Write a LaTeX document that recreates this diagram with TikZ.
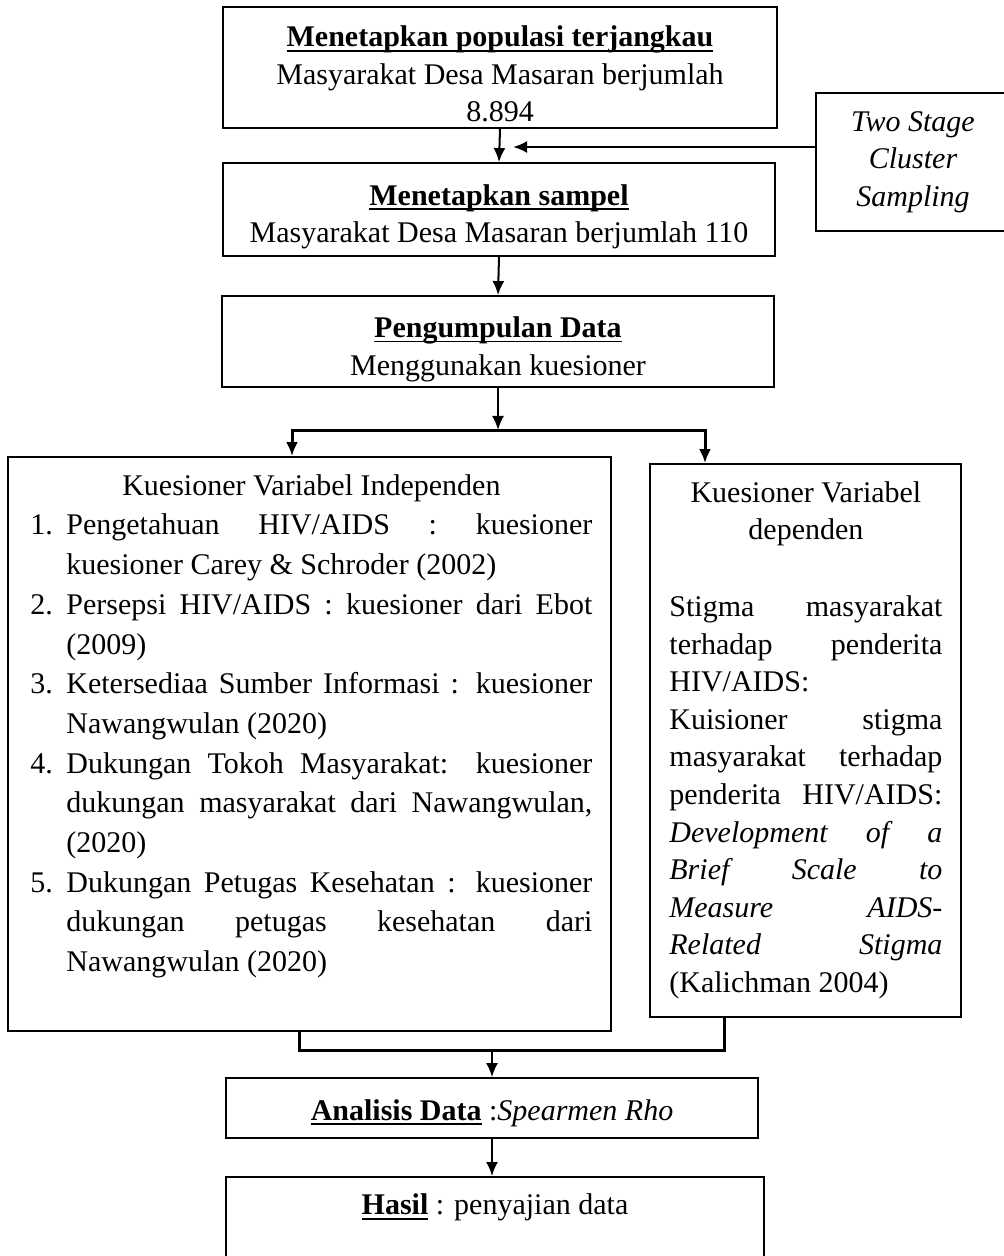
\documentclass[tikz,border=0pt]{standalone}
\usepackage{fontspec}
\setmainfont{Liberation Serif}
\usetikzlibrary{arrows.meta}

% nomor butir dengan indentasi gantung
\newcommand{\butir}[1]{\noindent\hangindent=18pt\hangafter=1\makebox[18pt][l]{#1}}
% penyangga atas supaya teks kotak sedikit turun
\newcommand{\jarak}[1]{\rule{0pt}{#1}}
% garis bawah tebal seperti pada dokumen Word
\newcommand{\garisbawah}[1]{\setbox0\hbox{#1}\rlap{\rule[-2.4pt]{\wd0}{0.85pt}}\box0\relax}

\begin{document}
\begin{tikzpicture}[x=0.5pt, y=-0.5pt,
    every node/.style={font=\fontsize{15}{18.75}\selectfont},
    kotak/.style={draw, line width=0.9pt, align=center, inner sep=0pt},
    isi/.style={inner sep=0pt, align=justify, anchor=north west},
    panah/.style={-{Latex[length=7pt, width=6pt]}, line width=1pt},
    garis/.style={line width=1.5pt}]
  \useasboundingbox (0,0) rectangle (1003,1256);

  % Populasi terjangkau
  \node[kotak, minimum width=277pt, minimum height=60.5pt] (populasi) at (500,67.5)
    {\jarak{17pt}\garisbawah{\textbf{Menetapkan populasi terjangkau}}\\Masyarakat Desa Masaran berjumlah\\8.894};

  % Sampel
  \node[kotak, minimum width=276pt, minimum height=46.5pt] (sampel) at (499,209.5)
    {\jarak{17.5pt}\garisbawah{\textbf{Menetapkan sampel}}\\Masyarakat Desa Masaran berjumlah 110};

  % Teknik sampling (terpotong di tepi kanan)
  \node[kotak, minimum width=97pt, minimum height=69pt, font=\fontsize{15}{18.75}\selectfont\itshape] (cluster) at (913,162)
    {Two Stage\\Cluster\\Sampling};

  % Pengumpulan data
  \node[kotak, minimum width=276pt, minimum height=45.5pt] (pengumpulan) at (498,341.5)
    {\jarak{18pt}\garisbawah{\textbf{Pengumpulan Data}}\\Menggunakan kuesioner};

  % Kuesioner variabel independen
  \node[kotak, minimum width=301.5pt, minimum height=287pt] (kiri) at (309.5,744) {};
  \node[isi, text width=281pt, font=\fontsize{15}{19.85}\selectfont] (isiKiri) at (30,474) {%
    \parindent=0pt\parskip=0pt\tolerance=10000\hbadness=10000\hyphenpenalty=10000
    {\centering Kuesioner Variabel Independen\par}
    \butir{1.}Pengetahuan HIV/AIDS : kuesioner\linebreak kuesioner Carey \& Schroder (2002)\par
    \butir{2.}Persepsi HIV/AIDS : kuesioner dari Ebot\linebreak (2009)\par
    \butir{3.}Ketersediaa Sumber Informasi : kuesioner\linebreak Nawangwulan (2020)\par
    \butir{4.}Dukungan Tokoh Masyarakat: kuesioner\linebreak dukungan masyarakat dari Nawangwulan,\linebreak (2020)\par
    \butir{5.}Dukungan Petugas Kesehatan : kuesioner\linebreak dukungan petugas kesehatan dari\linebreak Nawangwulan (2020)\par};

  % Kuesioner variabel dependen
  \node[kotak, minimum width=155.5pt, minimum height=276.5pt] (kanan) at (805.5,740.5) {};
  \node[isi, text width=136.5pt, font=\fontsize{15}{18.8}\selectfont] (isiKanan) at (669,481) {%
    \parindent=0pt\parskip=0pt\tolerance=10000\hbadness=10000\hyphenpenalty=10000
    {\centering Kuesioner Variabel\par dependen\par}
    \vspace{19.5pt}
    Stigma masyarakat\linebreak terhadap penderita\linebreak HIV/AIDS:\par
    Kuisioner stigma\linebreak masyarakat terhadap\linebreak penderita HIV/AIDS:\linebreak
    \textit{Development of a}\linebreak \textit{Brief Scale to}\linebreak
    \textit{Measure AIDS-}\linebreak\textit{Related Stigma}\linebreak (Kalichman 2004)\par};

  % Analisis data
  \node[kotak, minimum width=266pt, minimum height=30pt] (analisis) at (492,1108)
    {\jarak{15.5pt}\garisbawah{\textbf{Analisis Data}} :\textit{Spearmen Rho}};

  % Hasil (terpotong di tepi bawah)
  \node[kotak, minimum width=269pt, text height=19pt, text depth=22pt, anchor=north] (hasil) at (495,1176)
    {\garisbawah{\textbf{Hasil}} : penyajian data};

  % Alur bagian atas
  \draw[panah] (populasi.south) -- (sampel.north);
  \coordinate (ujungCluster) at (513,147);
  \draw[panah, line width=1.2pt] (cluster.west |- ujungCluster) -- (ujungCluster);
  \draw[panah] (sampel.south) -- (pengumpulan.north);

  % Percabangan ke dua kuesioner
  \coordinate (cabangKiri) at (292,430);
  \coordinate (cabangKanan) at (705,430);
  \draw[panah] (pengumpulan.south) -- (pengumpulan.south |- cabangKiri);
  \draw[garis, {Latex[length=7pt, width=6pt]}-{Latex[length=7pt, width=6pt]}]
    (cabangKiri |- kiri.north) -- (cabangKiri) -- (cabangKanan) -- (cabangKanan |- kanan.north);

  % Penggabungan ke analisis
  \coordinate (gabungKiri) at (299,1050);
  \coordinate (gabungKanan) at (724,1050);
  \draw[garis] (kiri.south -| gabungKiri) -- (gabungKiri) -- (gabungKanan) -- (kanan.south -| gabungKanan);
  \draw[panah] (analisis.north |- gabungKiri) -- (analisis.north);
  \draw[panah] (analisis.south) -- (analisis.south |- hasil.north);

\end{tikzpicture}
\end{document}
